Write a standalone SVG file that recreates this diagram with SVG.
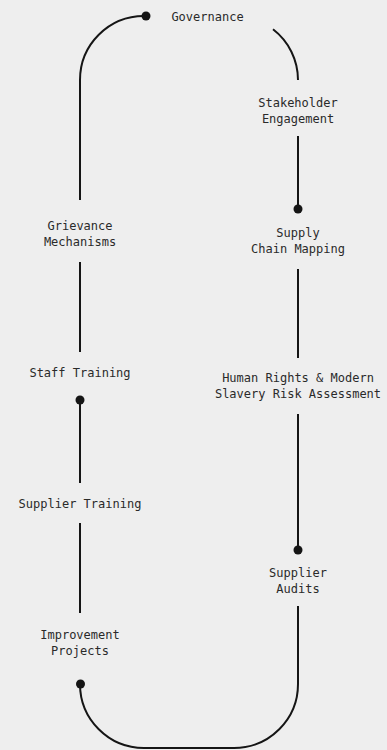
<svg xmlns="http://www.w3.org/2000/svg" width="387" height="750" viewBox="0 0 387 750">
<style>
.bg{fill:#eeeeee}
.lbl{font-family:"DejaVu Sans Mono","Liberation Mono",monospace;font-size:12px;fill:#2a2a2a;text-anchor:middle;dominant-baseline:central}
.edge{fill:none;stroke:#151515;stroke-width:2}
.dot{fill:#151515}
</style>
<rect class="bg" x="0" y="0" width="387" height="750"/>
<g id="connectors">
<path class="edge" d="M80,200 L80,80 A64,64 0 0 1 144,16 L146,16"/>
<circle class="dot" cx="146" cy="16" r="4.5"/>
<path class="edge" d="M273,29.3 A64,64 0 0 1 298,80"/>
<path class="edge" d="M298,136 L298,209"/>
<circle class="dot" cx="298" cy="209" r="4.5"/>
<path class="edge" d="M298,269 L298,358"/>
<path class="edge" d="M298,414 L298,550"/>
<circle class="dot" cx="298" cy="550" r="4.5"/>
<path class="edge" d="M298,606 L298,684 A64,64 0 0 1 234,748 L144,748 A64,64 0 0 1 80,684"/>
<circle class="dot" cx="80.5" cy="684" r="4.5"/>
<path class="edge" d="M80,613 L80,523"/>
<path class="edge" d="M80,483 L80,400"/>
<circle class="dot" cx="80" cy="400" r="4.5"/>
<path class="edge" d="M80,352 L80,262"/>
</g>
<g id="governance"><text class="lbl" x="207.5" y="17">Governance</text></g>
<g id="stakeholder-engagement"><text class="lbl" x="298" y="103">Stakeholder</text><text class="lbl" x="298" y="119">Engagement</text></g>
<g id="supply-chain-mapping"><text class="lbl" x="298" y="233">Supply</text><text class="lbl" x="298" y="249">Chain Mapping</text></g>
<g id="human-rights"><text class="lbl" x="298" y="378">Human Rights &amp; Modern</text><text class="lbl" x="298" y="394">Slavery Risk Assessment</text></g>
<g id="supplier-audits"><text class="lbl" x="298" y="573">Supplier</text><text class="lbl" x="298" y="589">Audits</text></g>
<g id="improvement-projects"><text class="lbl" x="80" y="635">Improvement</text><text class="lbl" x="80" y="651">Projects</text></g>
<g id="supplier-training"><text class="lbl" x="80" y="504">Supplier Training</text></g>
<g id="staff-training"><text class="lbl" x="80" y="373">Staff Training</text></g>
<g id="grievance-mechanisms"><text class="lbl" x="80" y="226">Grievance</text><text class="lbl" x="80" y="242">Mechanisms</text></g>
</svg>
